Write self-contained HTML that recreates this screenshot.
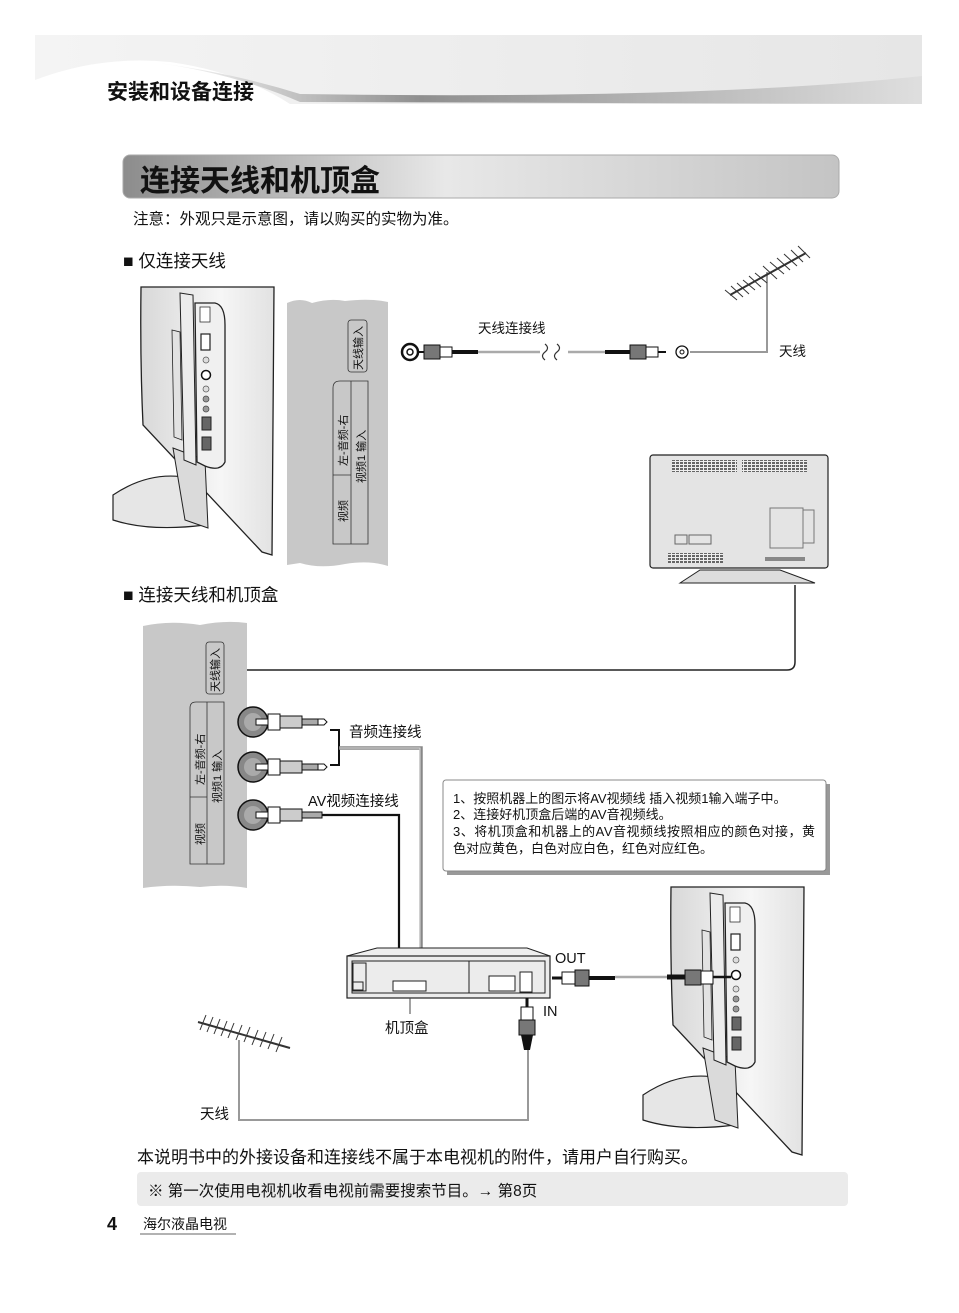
<!DOCTYPE html>
<html><head><meta charset="utf-8"><style>
html,body{margin:0;padding:0;background:#fff}
svg{display:block}
text{font-family:"Liberation Sans","Noto Sans CJK SC",sans-serif;fill:#111}
</style></head><body>
<svg width="959" height="1313" viewBox="0 0 959 1313" xmlns="http://www.w3.org/2000/svg">
<defs>
<linearGradient id="hdr" x1="0" y1="0" x2="1" y2="0"><stop offset="0" stop-color="#f4f4f4"/><stop offset="1" stop-color="#e6e6e6"/></linearGradient>
<linearGradient id="wave" x1="0" y1="0" x2="1" y2="0"><stop offset="0" stop-color="#fff"/><stop offset="0.35" stop-color="#777"/><stop offset="1" stop-color="#ddd"/></linearGradient>
<linearGradient id="ttl" x1="0" y1="0" x2="1" y2="0"><stop offset="0" stop-color="#8c8c8c"/><stop offset="0.45" stop-color="#e8e8e8"/><stop offset="1" stop-color="#c4c4c4"/></linearGradient>
<linearGradient id="body" x1="0" y1="0" x2="1" y2="0"><stop offset="0" stop-color="#d8d8d8"/><stop offset="0.6" stop-color="#f6f6f6"/><stop offset="1" stop-color="#e2e2e2"/></linearGradient>
<pattern id="vent" width="4" height="3" patternUnits="userSpaceOnUse"><rect width="4" height="3" fill="#eee"/><rect width="3" height="2" fill="#666"/></pattern>
<g id="tvside">
 <path d="M141,287 Q140,360 143,425 L262,552 L272,555 L274,287 Z" fill="url(#body)" stroke="#222" stroke-width="1.3"/>
 <path d="M113,495 Q150,470 190,478 L205,500 L205,525 Q150,532 113,520 Z" fill="#e6e6e6" stroke="#222" stroke-width="1.2"/>
 <path d="M173,448 L205,460 L208,528 L185,520 Z" fill="#dadada" stroke="#222" stroke-width="1"/>
 <path d="M180,293 L193,295 L196,465 L184,460 Z" fill="#ececec" stroke="#222" stroke-width="1"/>
 <path d="M172,330 L180,332 L182,440 L174,437 Z" fill="#e2e2e2" stroke="#222" stroke-width="0.8"/>
 <path d="M195,303 L215,303 Q225,305 225,325 L225,462 Q220,472 205,466 L197,462 Z" fill="#f0f0f0" stroke="#222" stroke-width="1.3"/>
 <rect x="200" y="307" width="10" height="15" fill="#fff" stroke="#333" stroke-width="0.8"/>
 <rect x="201" y="334" width="9" height="16" fill="#fff" stroke="#222" stroke-width="1.2"/>
 <circle cx="206" cy="360" r="3" fill="#ddd" stroke="#555" stroke-width="0.7"/>
 <circle cx="206" cy="375" r="4.5" fill="#fff" stroke="#111" stroke-width="1.5"/>
 <circle cx="206" cy="389" r="3" fill="#ddd" stroke="#555" stroke-width="0.7"/>
 <circle cx="206" cy="399" r="3" fill="#999" stroke="#444" stroke-width="0.7"/>
 <circle cx="206" cy="409" r="3" fill="#999" stroke="#444" stroke-width="0.7"/>
 <rect x="202" y="417" width="9" height="13" fill="#666" stroke="#222"/>
 <rect x="202" y="437" width="9" height="13" fill="#666" stroke="#222"/>
</g>
</defs>

<!-- header -->
<rect x="35" y="35" width="887" height="69" fill="url(#hdr)"/>
<path d="M35,80 Q100,55 170,62 Q240,72 290,104 L35,104 Z" fill="#fff"/>
<path d="M150,62 Q230,72 300,102 L922,104 L922,76 Q700,100 300,94 Q230,72 150,62 Z" fill="url(#wave)" opacity="0.8"/>
<text x="107" y="99" font-size="21" font-weight="bold">安装和设备连接</text>

<!-- title -->
<rect x="123" y="155" width="716" height="43" rx="7" fill="url(#ttl)" stroke="#aaa"/>
<text x="140" y="191" font-size="30" font-weight="bold">连接天线和机顶盒</text>
<text x="133" y="224" font-size="15.5">注意：外观只是示意图，请以购买的实物为准。</text>

<text x="123" y="267" font-size="17.5">■ 仅连接天线</text>

<!-- TV1 -->
<use href="#tvside"/>
<path d="M287,303 Q300,297 312,303 Q330,298 345,301 Q370,298 388,302 L388,566 Q370,560 345,564 Q320,569 300,563 L287,565 Z" fill="#c8c8c8"/>
<rect x="348" y="320" width="19" height="52" rx="3" fill="#c8c8c8" stroke="#333" stroke-width="0.8"/>
<text transform="translate(362,370) rotate(-90)" font-size="11">天线输入</text>
<path d="M333,544 L333,388 Q333,381 340,381 L368,381 L368,544 Z" fill="none" stroke="#333" stroke-width="0.8"/>
<line x1="351" y1="381" x2="351" y2="544" stroke="#333" stroke-width="0.8"/>
<line x1="333" y1="475" x2="351" y2="475" stroke="#333" stroke-width="0.8"/>
<text transform="translate(347,466) rotate(-90)" font-size="11">左-音频-右</text>
<text transform="translate(365,483) rotate(-90)" font-size="11">视频1 输入</text>
<text transform="translate(347,522) rotate(-90)" font-size="11">视频</text>

<!-- antenna cable top -->
<circle cx="410" cy="352" r="8" fill="#fff" stroke="#111" stroke-width="2.5"/>
<circle cx="410" cy="352" r="3" fill="#fff" stroke="#111" stroke-width="1.5"/>
<line x1="418" y1="352" x2="424" y2="352" stroke="#111" stroke-width="2"/>
<rect x="424" y="345" width="16" height="14" fill="#777" stroke="#111"/>
<rect x="440" y="347" width="12" height="10" fill="#fff" stroke="#111"/>
<line x1="452" y1="352" x2="478" y2="352" stroke="#111" stroke-width="4"/>
<line x1="478" y1="352" x2="540" y2="352" stroke="#aaa" stroke-width="2.5"/>
<path d="M545,344 q5,4 0,8 q-5,4 0,8 M557,344 q5,4 0,8 q-5,4 0,8" fill="none" stroke="#333" stroke-width="1.2"/>
<line x1="568" y1="352" x2="605" y2="352" stroke="#aaa" stroke-width="2.5"/>
<line x1="605" y1="352" x2="630" y2="352" stroke="#111" stroke-width="4"/>
<rect x="630" y="345" width="16" height="14" fill="#777" stroke="#111"/>
<rect x="646" y="347" width="12" height="10" fill="#fff" stroke="#111"/>
<line x1="658" y1="352" x2="666" y2="352" stroke="#111" stroke-width="2"/>
<circle cx="682" cy="352" r="6" fill="#fff" stroke="#111" stroke-width="1.3"/>
<circle cx="682" cy="352" r="2" fill="#fff" stroke="#111"/>
<text x="478" y="333" font-size="13.5">天线连接线</text>
<path d="M690,352 L767,352 L767,272" fill="none" stroke="#999" stroke-width="2"/>
<line x1="730" y1="295" x2="806" y2="253" stroke="#333" stroke-width="2"/>
<g stroke="#333" stroke-width="1">
<line x1="725" y1="290" x2="737" y2="300"/><line x1="731" y1="286" x2="743" y2="297"/><line x1="737" y1="283" x2="749" y2="294"/><line x1="743" y1="280" x2="755" y2="290"/><line x1="749" y1="276" x2="761" y2="287"/><line x1="755" y1="273" x2="767" y2="283"/><line x1="763" y1="266" x2="777" y2="279"/><line x1="770" y1="262" x2="784" y2="274"/><line x1="777" y1="258" x2="790" y2="270"/><line x1="784" y1="254" x2="797" y2="266"/><line x1="791" y1="250" x2="803" y2="262"/><line x1="798" y1="246" x2="810" y2="258"/>
</g>
<text x="779" y="356" font-size="13.5">天线</text>

<!-- TV back -->
<rect x="650" y="455" width="178" height="113" rx="3" fill="#e4e4e4" stroke="#222" stroke-width="1.2"/>
<rect x="672" y="460" width="65" height="12" fill="url(#vent)"/><rect x="742" y="460" width="65" height="12" fill="url(#vent)"/>
<rect x="668" y="553" width="55" height="10" fill="url(#vent)"/><rect x="765" y="557" width="40" height="4" fill="#888"/>
<rect x="675" y="535" width="12" height="9" fill="none" stroke="#666"/><rect x="689" y="535" width="22" height="9" fill="none" stroke="#666"/>
<rect x="770" y="508" width="33" height="40" fill="none" stroke="#777"/><rect x="803" y="510" width="11" height="33" fill="none" stroke="#777"/>
<path d="M680,583 L700,570 L780,570 L815,583 Z" fill="#ddd" stroke="#222"/>
<path d="M795,585 L795,662 Q795,670 787,670 L232,670" fill="none" stroke="#222" stroke-width="1.5"/>

<text x="123" y="601" font-size="17.5">■ 连接天线和机顶盒</text>

<!-- panel 2 -->
<path d="M143,626 Q170,620 200,625 Q225,620 247,623 L247,888 Q225,884 200,887 Q170,884 143,888 Z" fill="#c8c8c8"/>
<rect x="206" y="642" width="18" height="52" rx="3" fill="#c8c8c8" stroke="#333" stroke-width="0.8"/>
<text transform="translate(219,692) rotate(-90)" font-size="11">天线输入</text>
<path d="M190,864 L190,708 Q190,702 196,702 L224,702 L224,864 Z" fill="none" stroke="#333" stroke-width="0.8"/>
<line x1="207" y1="702" x2="207" y2="864" stroke="#333" stroke-width="0.8"/>
<line x1="190" y1="797" x2="207" y2="797" stroke="#333" stroke-width="0.8"/>
<text transform="translate(204,785) rotate(-90)" font-size="11">左-音频-右</text>
<text transform="translate(221,803) rotate(-90)" font-size="11">视频1 输入</text>
<text transform="translate(204,845) rotate(-90)" font-size="11">视频</text>

<!-- jacks -->
<circle cx="253" cy="722" r="15" fill="#888" stroke="#111" stroke-width="1.5"/><circle cx="253" cy="722" r="9" fill="#aaa"/>
<circle cx="253" cy="767" r="15" fill="#888" stroke="#111" stroke-width="1.5"/><circle cx="253" cy="767" r="9" fill="#aaa"/>
<circle cx="253" cy="815" r="15" fill="#888" stroke="#111" stroke-width="1.5"/><circle cx="253" cy="815" r="9" fill="#aaa"/>
<g stroke="#111" stroke-width="1">
<rect x="256" y="719" width="12" height="6" fill="#fff"/><rect x="268" y="714" width="12" height="16" fill="#fff"/><rect x="280" y="716" width="22" height="12" fill="#ccc"/><rect x="302" y="719" width="16" height="6" fill="#aaa"/><path d="M318,719 L324,719 L327,722 L324,725 L318,725Z" fill="#fff"/>
<rect x="256" y="764" width="12" height="6" fill="#fff"/><rect x="268" y="759" width="12" height="16" fill="#fff"/><rect x="280" y="761" width="22" height="12" fill="#ccc"/><rect x="302" y="764" width="16" height="6" fill="#aaa"/><path d="M318,764 L324,764 L327,767 L324,770 L318,770Z" fill="#fff"/>
<rect x="256" y="812" width="12" height="6" fill="#fff"/><rect x="268" y="807" width="12" height="16" fill="#fff"/><rect x="280" y="809" width="22" height="12" fill="#ccc"/><rect x="302" y="812" width="20" height="6" fill="#aaa"/>
</g>
<path d="M330,730 L339,730 L339,765 L330,765" fill="none" stroke="#111" stroke-width="2"/>
<text x="349" y="737" font-size="14.5">音频连接线</text>
<text x="308" y="806" font-size="14.5">AV视频连接线</text>
<path d="M339,748 L421,748 L421,948" fill="none" stroke="#888" stroke-width="3.5"/>
<path d="M340,748 L420,748 L420,948" fill="none" stroke="#ddd" stroke-width="1"/>
<path d="M322,815 L399,815 L399,948" fill="none" stroke="#111" stroke-width="2.2"/>

<!-- note box -->
<rect x="447" y="784" width="383" height="91" fill="#999"/>
<rect x="443" y="780" width="383" height="91" rx="3" fill="#fff" stroke="#888"/>
<g font-size="13">
<text x="453" y="803">1、按照机器上的图示将AV视频线 插入视频1输入端子中。</text>
<text x="453" y="819">2、连接好机顶盒后端的AV音视频线。</text>
<text x="453" y="836" textLength="362" lengthAdjust="spacing">3、将机顶盒和机器上的AV音视频线按照相应的颜色对接，黄</text>
<text x="453" y="853">色对应黄色，白色对应白色，红色对应红色。</text>
</g>

<!-- set top box -->
<path d="M347,956 L377,948 L527,948 L550,956 Z" fill="#eee" stroke="#222"/>
<rect x="347" y="956" width="203" height="42" fill="#ececec" stroke="#222" stroke-width="1.2"/>
<rect x="352" y="961" width="193" height="32" fill="none" stroke="#222"/>
<line x1="469" y1="961" x2="469" y2="993" stroke="#222"/>
<rect x="353" y="963" width="13" height="28" fill="none" stroke="#222"/><rect x="353" y="982" width="10" height="8" fill="none" stroke="#222"/>
<rect x="393" y="981" width="33" height="10" fill="#fff" stroke="#222"/>
<rect x="489" y="976" width="26" height="15" fill="#fff" stroke="#222"/>
<rect x="520" y="972" width="12" height="20" fill="#fff" stroke="#222"/>
<line x1="410" y1="998" x2="410" y2="1014" stroke="#444"/>
<text x="385" y="1033" font-size="14.5">机顶盒</text>
<line x1="552" y1="978" x2="562" y2="978" stroke="#111" stroke-width="3"/>
<rect x="562" y="972" width="13" height="12" fill="#fff" stroke="#111"/>
<rect x="575" y="970" width="14" height="16" fill="#777" stroke="#111"/>
<line x1="589" y1="978" x2="615" y2="978" stroke="#111" stroke-width="4"/>
<line x1="615" y1="977" x2="667" y2="977" stroke="#aaa" stroke-width="2.5"/>
<text x="555" y="963" font-size="14.5">OUT</text>
<line x1="527" y1="998" x2="527" y2="1007" stroke="#111" stroke-width="3"/>
<rect x="521" y="1007" width="12" height="13" fill="#fff" stroke="#111"/>
<rect x="519" y="1020" width="16" height="15" fill="#777" stroke="#111"/>
<path d="M521,1035 L533,1035 L530,1050 L524,1050 Z" fill="#111"/>
<text x="543" y="1016" font-size="14.5">IN</text>
<path d="M528,1050 L528,1120 L239,1120 L239,1040" fill="none" stroke="#999" stroke-width="2"/>
<line x1="198" y1="1022" x2="290" y2="1048" stroke="#333" stroke-width="2"/>
<g stroke="#333" stroke-width="1">
<line x1="200" y1="1030" x2="206" y2="1015"/><line x1="207" y1="1032" x2="213" y2="1017"/><line x1="214" y1="1034" x2="220" y2="1019"/><line x1="221" y1="1036" x2="227" y2="1021"/><line x1="228" y1="1038" x2="234" y2="1023"/><line x1="236" y1="1040" x2="242" y2="1025"/><line x1="244" y1="1042" x2="250" y2="1027"/><line x1="252" y1="1045" x2="258" y2="1030"/><line x1="260" y1="1047" x2="266" y2="1032"/><line x1="268" y1="1049" x2="274" y2="1034"/><line x1="276" y1="1052" x2="282" y2="1037"/>
</g>
<text x="200" y="1119" font-size="14.5">天线</text>

<!-- TV2 -->
<g transform="translate(530,600)"><use href="#tvside"/></g>
<line x1="667" y1="977" x2="685" y2="977" stroke="#111" stroke-width="5"/>
<rect x="685" y="970" width="16" height="15" fill="#777" stroke="#111"/>
<rect x="701" y="971" width="12" height="13" fill="#fff" stroke="#111"/>
<line x1="713" y1="977" x2="731" y2="977" stroke="#111" stroke-width="2.5"/>

<!-- footer -->
<text x="137" y="1163" font-size="17">本说明书中的外接设备和连接线不属于本电视机的附件，请用户自行购买。</text>
<rect x="137" y="1172" width="711" height="34" rx="4" fill="#ebebeb"/>
<text x="148" y="1196" font-size="15.5">※ 第一次使用电视机收看电视前需要搜索节目。→ 第8页</text>
<text x="107" y="1230" font-size="18" font-weight="bold">4</text>
<text x="143" y="1229" font-size="14">海尔液晶电视</text>
<line x1="140" y1="1234" x2="236" y2="1234" stroke="#333" stroke-width="0.8"/>
</svg>
</body></html>
